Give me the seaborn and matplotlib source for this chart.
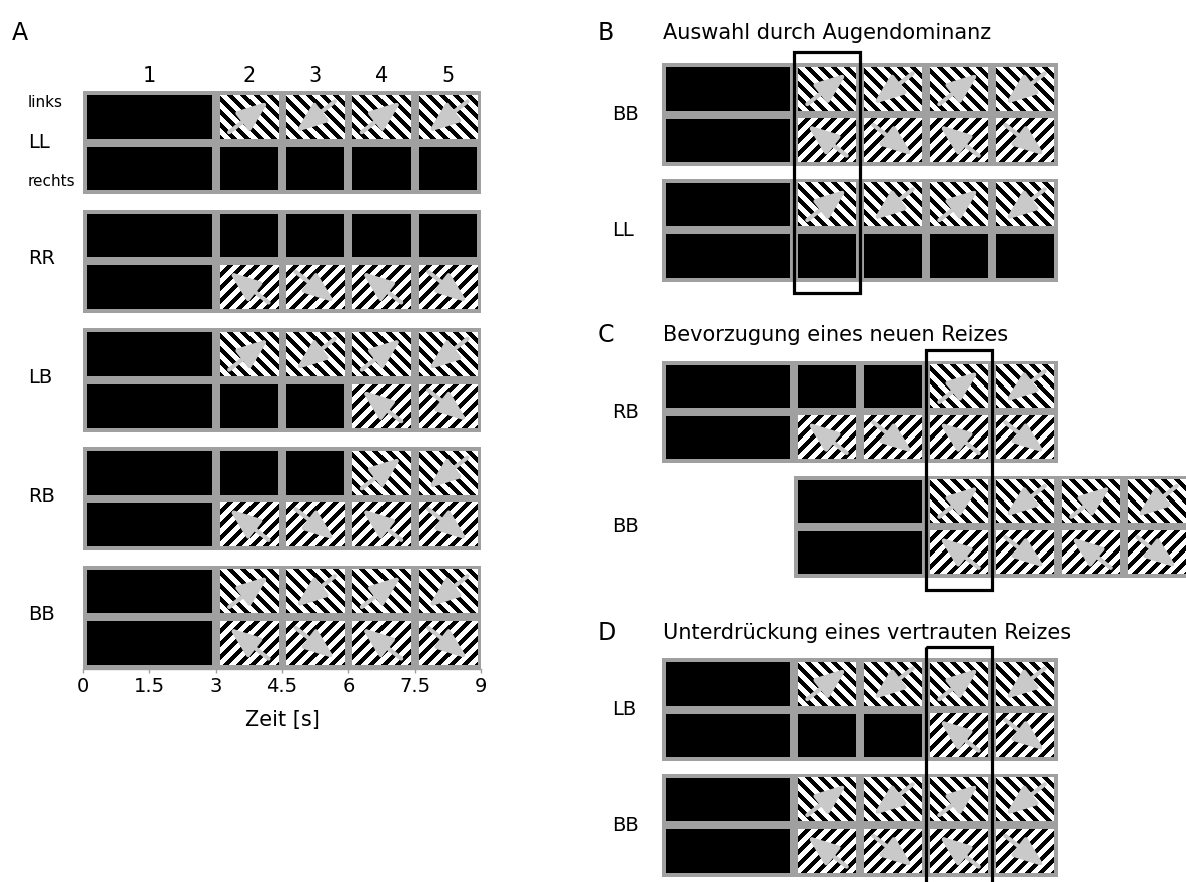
import numpy as np
import matplotlib
matplotlib.use("Agg")
import matplotlib.pyplot as plt
from matplotlib.patches import Rectangle
import seaborn as sns

# ---------------------------------------------------------------
# Data: trial structure
# ---------------------------------------------------------------
interval_labels = ["1", "2", "3", "4", "5"]
interval_start = [0.0, 3.0, 4.5, 6.0, 7.5]   # s
interval_dur = [3.0, 1.5, 1.5, 1.5, 1.5]     # s
motion_dir = [0, 1, -1, 1, -1]              # direction of motion per interval
time_ticks = [0, 1.5, 3, 4.5, 6, 7.5, 9]
time_ticklabels = ["0", "1.5", "3", "4.5", "6", "7.5", "9"]

# grating shown (1) or dark screen (0) per interval
left_eye = {"LL": [0, 1, 1, 1, 1], "RR": [0, 0, 0, 0, 0], "LB": [0, 1, 1, 1, 1],
            "RB": [0, 0, 0, 1, 1], "BB": [0, 1, 1, 1, 1]}
right_eye = {"LL": [0, 0, 0, 0, 0], "RR": [0, 1, 1, 1, 1], "LB": [0, 0, 0, 1, 1],
             "RB": [0, 1, 1, 1, 1], "BB": [0, 1, 1, 1, 1]}

panel_a_conditions = ["LL", "RR", "LB", "RB", "BB"]
panel_b_conditions = ["BB", "LL"]
panel_b_onsets = [0.0, 0.0]
panel_b_window = (3.0, 4.5)
panel_c_conditions = ["RB", "BB"]
panel_c_onsets = [0.0, 3.0]
panel_c_window = (6.0, 7.5)
panel_d_conditions = ["LB", "BB"]
panel_d_onsets = [0.0, 0.0]
panel_d_window = (6.0, 7.5)

panel_titles = {"B": "Auswahl durch Augendominanz",
                "C": "Bevorzugung eines neuen Reizes",
                "D": "Unterdrückung eines vertrauten Reizes"}

# ---------------------------------------------------------------
# Style
# ---------------------------------------------------------------
sns.set_theme(style="white")
plt.rcParams["font.family"] = ["DejaVu Sans"]
plt.rcParams["text.color"] = "black"
plt.rcParams["axes.labelcolor"] = "black"
plt.rcParams["xtick.labelcolor"] = "black"

GREY = "#a0a0a0"
ARROW = "#c9c9c9"
GAP = 4.0        # px, inset of each cell inside the grey frame
PERIOD = 13.0    # px, horizontal stripe period
ARROW_LEN = 50   # px

W, H = 1186, 882
fig = plt.figure(figsize=(W / 100, H / 100), dpi=100)


def add_axes_px(x0, y0, x1, y1):
    return fig.add_axes([x0 / W, 1 - y1 / H, (x1 - x0) / W, (y1 - y0) / H])


def draw_block(ax, y0, onset, cond, sx, sy):
    total = sum(interval_dur)
    ax.add_patch(Rectangle((onset, y0), total, 2, fc=GREY, ec="none", zorder=1))
    for eye_i, eye in enumerate([left_eye, right_eye]):
        row_y = y0 + eye_i
        for k in range(len(interval_start)):
            t0 = onset + interval_start[k]
            dur = interval_dur[k]
            cx0, cx1 = t0 + GAP / sx, t0 + dur - GAP / sx
            cy0, cy1 = row_y + GAP / sy, row_y + 1 - GAP / sy
            if not eye[cond][k]:
                ax.add_patch(Rectangle((cx0, cy0), cx1 - cx0, cy1 - cy0,
                                       fc="black", ec="none", zorder=2))
                continue
            # grating
            w_px = int(round((cx1 - cx0) * sx))
            h_px = int(round((cy1 - cy0) * sy))
            jj, ii = np.meshgrid(np.arange(w_px), np.arange(h_px))
            s = (jj - ii) if eye_i == 0 else (jj + ii)
            img = ((s % PERIOD) < PERIOD / 2).astype(float)
            ax.imshow(img, cmap="gray", vmin=0, vmax=1, extent=(cx0, cx1, cy1, cy0),
                      aspect="auto", interpolation="nearest", zorder=2)
            # motion arrow
            theta = np.deg2rad(38 if eye_i == 0 else 142)
            d = motion_dir[k]
            ux, uy = d * np.cos(theta), d * np.sin(theta)
            cx, cy = (cx0 + cx1) / 2, (cy0 + cy1) / 2
            hx = ARROW_LEN / 2 * ux / sx
            hy = -ARROW_LEN / 2 * uy / sy
            ax.annotate("", xy=(cx + hx, cy + hy), xytext=(cx - hx, cy - hy),
                        arrowprops=dict(arrowstyle="-|>,head_length=1.1,head_width=0.42",
                                        mutation_scale=17, color=ARROW, lw=3,
                                        shrinkA=0, shrinkB=0),
                        zorder=3, annotation_clip=False)


def draw_window(ax, window, y_top, y_bot):
    ax.add_patch(Rectangle((window[0], y_top), window[1] - window[0], y_bot - y_top,
                           fill=False, ec="black", lw=2.3, clip_on=False, zorder=6))


# ---------------------------------------------------------------
# Panel A
# ---------------------------------------------------------------
pitch_a = 2.3
ymax_a = pitch_a * (len(panel_a_conditions) - 1) + 2
ax_a = add_axes_px(83, 91, 481, 669)
sx_a = (481 - 83) / 9.0
sy_a = (669 - 91) / ymax_a
for b, cond in enumerate(panel_a_conditions):
    draw_block(ax_a, b * pitch_a, 0.0, cond, sx_a, sy_a)
    if b == 0:
        ax_a.text(-1.25, 0.22, "links", fontsize=11, va="center", ha="left", clip_on=False)
        ax_a.text(-1.25, 1.0, cond, fontsize=14, va="center", ha="left", clip_on=False)
        ax_a.text(-1.25, 1.76, "rechts", fontsize=11, va="center", ha="left", clip_on=False)
    else:
        ax_a.text(-1.25, b * pitch_a + 0.95, cond, fontsize=14, va="center", ha="left",
                  clip_on=False)
for k, lab in enumerate(interval_labels):
    ax_a.text(interval_start[k] + interval_dur[k] / 2, -0.29, lab, fontsize=15,
              ha="center", va="center", clip_on=False)
ax_a.set_xlim(0, 9)
ax_a.set_ylim(ymax_a, 0)
ax_a.set_yticks([])
ax_a.set_xticks(time_ticks)
ax_a.set_xticklabels(time_ticklabels, fontsize=14)
ax_a.tick_params(axis="x", bottom=True, length=3, width=1, color=GREY, pad=3)
ax_a.set_xlabel("Zeit [s]", fontsize=15, labelpad=10)
sns.despine(ax=ax_a, left=True)
ax_a.spines["bottom"].set_color(GREY)
ax_a.spines["bottom"].set_linewidth(1)
ax_a.set_facecolor("none")

# ---------------------------------------------------------------
# Panels B, C, D
# ---------------------------------------------------------------
pitch_r = 2.25
ymax_r = pitch_r + 2
panels = [
    ("B", panel_b_conditions, panel_b_onsets, panel_b_window, (662, 63, 1058, 282), 9.0, 0.21),
    ("C", panel_c_conditions, panel_c_onsets, panel_c_window, (662, 361, 1186, 578), 524 / 44.0, 0.24),
    ("D", panel_d_conditions, panel_d_onsets, panel_d_window, (662, 658, 1058, 877), 9.0, 1.0),
]
for letter, conds, onsets, window, box, xmax, below in panels:
    ax = add_axes_px(*box)
    sx = (box[2] - box[0]) / xmax
    sy = (box[3] - box[1]) / ymax_r
    for b, (cond, onset) in enumerate(zip(conds, onsets)):
        draw_block(ax, b * pitch_r, onset, cond, sx, sy)
        ax.text(-1.14, b * pitch_r + 1.0, cond, fontsize=14, va="center", ha="left",
                clip_on=False)
    draw_window(ax, window, -0.21, ymax_r + below)
    ax.set_xlim(0, xmax)
    ax.set_ylim(ymax_r, 0)
    ax.set_axis_off()

# ---------------------------------------------------------------
# Panel letters and titles
# ---------------------------------------------------------------
fig.text(12 / W, 1 - 33 / H, "A", fontsize=17, va="center", ha="left")
for letter, y in [("B", 33), ("C", 335), ("D", 633)]:
    fig.text(598 / W, 1 - y / H, letter, fontsize=17, va="center", ha="left")
    fig.text(663 / W, 1 - y / H, panel_titles[letter], fontsize=15, va="center", ha="left")

fig.savefig("out.png", dpi=100)
